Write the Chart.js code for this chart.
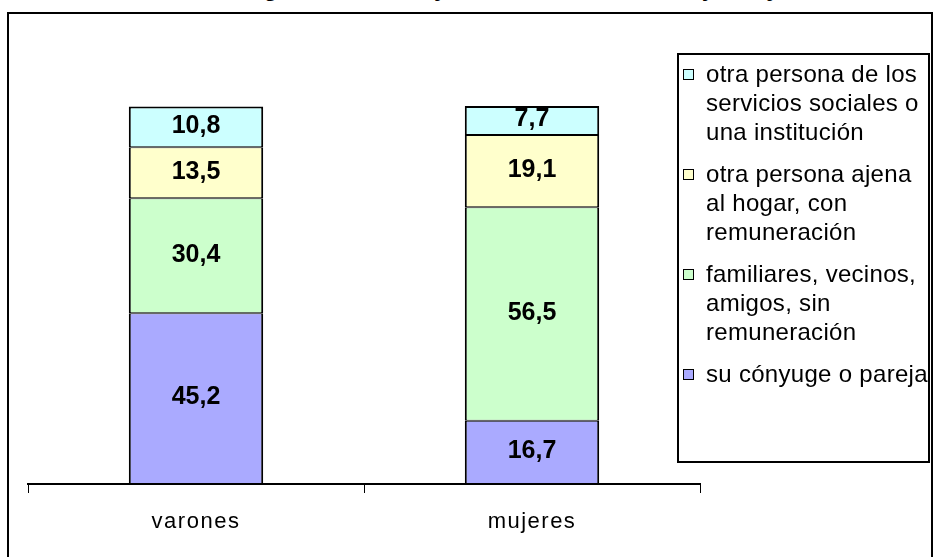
<!DOCTYPE html>
<html>
<head>
<meta charset="utf-8">
<script src="https://cdn.jsdelivr.net/npm/chart.js@4"></script>
<style>
  body { margin: 0; width: 935px; height: 557px; overflow: hidden; background: #fff; position: relative; }
  #title { position: absolute; left: 0; top: -24px; width: 935px; text-align: center; white-space: nowrap;
           font: bold 24px 'Liberation Sans', Arial, sans-serif; line-height: 24px; color: #000; }
  #frame { position: absolute; left: 7px; top: 12px; width: 922px; height: 600px; border: 2px solid #000; }
  #chartBox { position: absolute; left: 0; top: 0; width: 935px; height: 557px; }
  #legend { position: absolute; left: 677px; top: 53px; width: 253px; height: 410px; box-sizing: border-box;
            border: 2px solid #000; background: #fff; padding: 4px 0 0 4px;
            font: 24px 'Liberation Sans', Arial, sans-serif; letter-spacing: 0.3px; color: #000; }
  .item { position: relative; width: 228px; padding-left: 23px; line-height: 29px; margin-bottom: 13px; white-space: normal; }
  .item i { position: absolute; left: 0; top: 10px; width: 9px; height: 9px; border: 1.5px solid #000; }
</style>
</head>
<body>
<div id="title">Cuidados en el hogar, cuidadora y cuidador habitual, mujeres y varones</div>
<div id="frame"></div>
<div id="chartBox"><canvas id="barChart"></canvas></div>
<div id="legend"></div>
<script>
// datos
const categories = ['varones', 'mujeres'];
const seriesNames = [
    'su cónyuge o pareja',
    'familiares, vecinos, amigos, sin remuneración',
    'otra persona ajena al hogar, con remuneración',
    'otra persona de los servicios sociales o una institución'
];
const conyuge = [45.2, 16.7];
const familiares = [30.4, 56.5];
const ajena = [13.5, 19.1];
const servicios = [10.8, 7.7];
const seriesColors = ['#AAAAFF', '#CCFFCC', '#FFFFCC', '#CCFFFF'];

const seriesValues = [conyuge, familiares, ajena, servicios];

// etiquetas de valor dentro de cada barra
const valueLabels = {
    id: 'valueLabels',
    beforeDraw(chart) {
        // espaciado de las etiquetas del eje x
        chart.ctx.letterSpacing = '1.5px';
    },
    afterDatasetsDraw(chart) {
        const ctx = chart.ctx;
        ctx.save();
        ctx.letterSpacing = '0px';
        ctx.font = 'bold 25px "Liberation Sans", Arial, sans-serif';
        ctx.textAlign = 'center';
        ctx.textBaseline = 'middle';
        ctx.fillStyle = '#000';
        chart.data.datasets.forEach((ds, i) => {
            chart.getDatasetMeta(i).data.forEach((bar, j) => {
                const p = bar.getCenterPoint();
                ctx.fillText(ds.data[j].toFixed(1).replace('.', ','), p.x, p.y - 1);
            });
        });
        ctx.restore();
    }
};

const lastIdx = seriesNames.length - 1;
const barChart = new Chart(document.getElementById('barChart'), {
    type: 'bar',
    data: {
        labels: categories,
        datasets: seriesNames.map((name, i) => ({
            label: name,
            data: seriesValues[i],
            backgroundColor: seriesColors[i],
            borderColor: '#000',
            borderWidth: { top: i === lastIdx ? 2 : 1, bottom: 1, left: 2, right: 2 },
            borderSkipped: false,
            barPercentage: 0.4,
            categoryPercentage: 1
        }))
    },
    options: {
        responsive: true,
        maintainAspectRatio: false,
        animation: false,
        layout: { padding: { left: 28, right: 235, top: 106, bottom: 0 } },
        scales: {
            x: {
                stacked: true,
                offset: true,
                grid: { offset: true, drawOnChartArea: false, tickLength: 9, color: '#000', lineWidth: 1 },
                border: { display: true, color: '#000', width: 2 },
                ticks: { color: '#000', padding: 16, font: { size: 22, family: "'Liberation Sans', Arial, sans-serif" } },
                afterFit(scale) { scale.height = 73; }
            },
            y: { stacked: true, display: false, min: 0, max: 100 }
        },
        plugins: {
            legend: { display: false },
            tooltip: { enabled: false }
        }
    },
    plugins: [valueLabels]
});

// leyenda (orden inverso, como en la barra)
const legendBox = document.getElementById('legend');
for (let i = lastIdx; i >= 0; i--) {
    const div = document.createElement('div');
    div.className = 'item';
    div.innerHTML = '<i style="background:' + seriesColors[i] + '"></i>';
    div.appendChild(document.createTextNode(seriesNames[i]));
    legendBox.appendChild(div);
}
</script>
</body>
</html>
